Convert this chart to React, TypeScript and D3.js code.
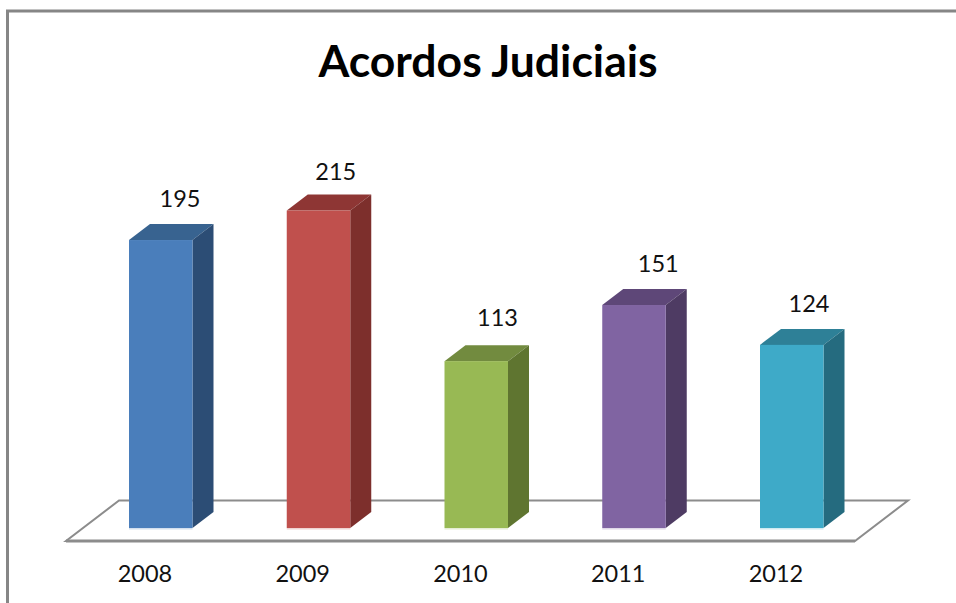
import React from "react";
import * as d3 from "d3";

const years = ["2008", "2009", "2010", "2011", "2012"];
const values = [195, 215, 113, 151, 124];
const frontColors = ["#4a7ebb", "#c0504d", "#98b954", "#8064a2", "#3eaac8"];
const topColors = ["#386390", "#8e3634", "#728b3f", "#5e4778", "#2e8097"];
const sideColors = ["#2c4d75", "#7d2f2c", "#5f7530", "#4e3b63", "#256b7f"];
const labelNudgeX = [-1, -3, 1, 4, -3];
const labelNudgeY = [0, 2.5, -2.5, 0, 0];
const titleText = "Acordos Judiciais";

const W = 956, H = 603;
const baseY = 528;
const depthX = 21, depthY = 16;
const frame = "#868686";

export default function App() {
  const y = d3.scaleLinear().domain([0, 215]).range([baseY, 210.5]);
  const x = d3.scalePoint<string>().domain(years).range([129, 760]);
  const bw = 63.5;

  const floor = d3.line()([[66, 541], [855, 541], [908, 500.5], [119, 500.5]]) + "Z";

  return (
    <svg width={W} height={H} style={{ position: "absolute", left: 0, top: 0, background: "#fff" }}>
      <path d={`M7.5,${H}V11H${W}`} fill="none" stroke={frame} strokeWidth={3} />
      <path d={floor} fill="#fff" stroke="#8c8c8c" strokeWidth={2} />
      <line x1={66} x2={855} y1={541} y2={541} stroke="#8c8c8c" strokeWidth={3} />
      <text x={488} y={77} textAnchor="middle" fontFamily="Lato" fontWeight={700} fontSize={44.5} fill="#000">{titleText}</text>
      {years.map((yr, i) => {
        const l = x(yr)!, r = l + bw, t = y(values[i]);
        const top = d3.line()([[l, t], [l + depthX, t - depthY], [r + depthX, t - depthY], [r, t]]) + "Z";
        const side = d3.line()([[r, t], [r + depthX, t - depthY], [r + depthX, baseY - depthY], [r, baseY]]) + "Z";
        return (
          <g key={yr}>
            <rect x={l} y={baseY} width={bw} height={1.5} fill={frontColors[i]} opacity={0.25} />
            <path d={top} fill={topColors[i]} />
            <path d={side} fill={sideColors[i]} />
            <rect x={l} y={t} width={bw} height={baseY - t} fill={frontColors[i]} />
            <text x={l + 52 + labelNudgeX[i]} y={t - 33 + labelNudgeY[i]} textAnchor="middle" fontFamily="Lato" fontSize={23.5} fill="#111">{values[i]}</text>
            <text x={l + 16} y={582} textAnchor="middle" fontFamily="Lato" fontSize={23.5} fill="#111">{yr}</text>
          </g>
        );
      })}
    </svg>
  );
}
